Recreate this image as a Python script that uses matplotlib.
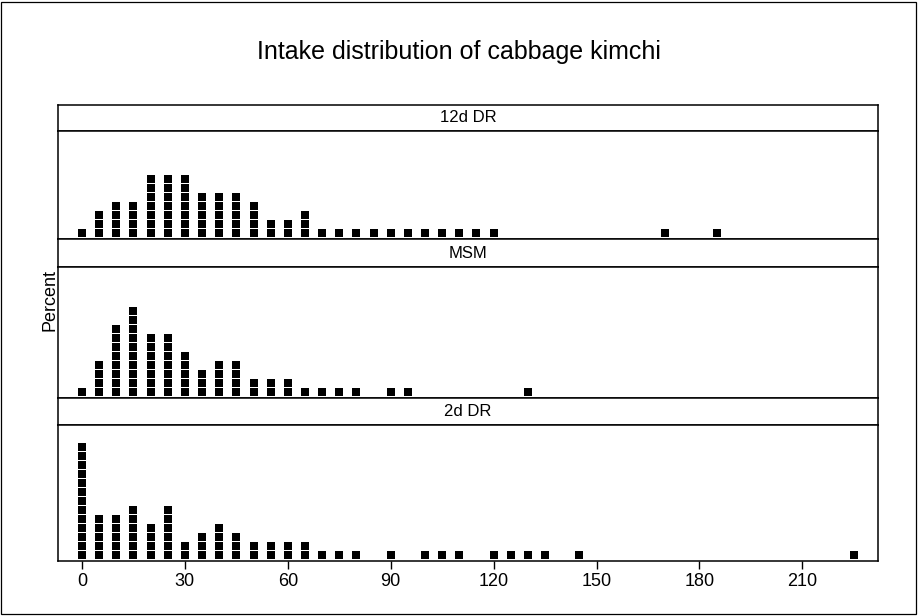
import numpy as np
import matplotlib
matplotlib.use("Agg")
import matplotlib.pyplot as plt
from matplotlib.patches import Rectangle

plt.rcParams['font.family'] = ['Liberation Sans', 'DejaVu Sans']

title = "Intake distribution of cabbage kimchi"
panel_names = ["12d DR", "MSM", "2d DR"]

# intake values (bin centres) and number of stacked squares per bin
dr12_x = [0, 5, 10, 15, 20, 25, 30, 35, 40, 45, 50, 55, 60, 65, 70, 75, 80, 85,
          90, 95, 100, 105, 110, 115, 120, 170, 185]
dr12_n = [1, 3, 4, 4, 7, 7, 7, 5, 5, 5, 4, 2, 2, 3, 1, 1, 1, 1,
          1, 1, 1, 1, 1, 1, 1, 1, 1]

msm_x = [0, 5, 10, 15, 20, 25, 30, 35, 40, 45, 50, 55, 60, 65, 70, 75, 80, 90, 95, 130]
msm_n = [1, 4, 8, 10, 7, 7, 5, 3, 4, 4, 2, 2, 2, 1, 1, 1, 1, 1, 1, 1]

dr2_x = [0, 5, 10, 15, 20, 25, 30, 35, 40, 45, 50, 55, 60, 65, 70, 75, 80, 90,
         100, 105, 110, 120, 125, 130, 135, 145, 225]
dr2_n = [13, 5, 5, 6, 4, 6, 2, 3, 4, 3, 2, 2, 2, 2, 1, 1, 1, 1,
         1, 1, 1, 1, 1, 1, 1, 1, 1]

xticks = [0, 30, 60, 90, 120, 150, 180, 210]

W, H = 918, 616
fig = plt.figure(figsize=(W / 100, H / 100), dpi=100)

# outer border
fig.add_artist(Rectangle((1 / W, 2 / H), (W - 3) / W, (H - 4) / H,
                         transform=fig.transFigure, fill=False,
                         edgecolor='black', linewidth=0.9))

fig.text(0.5, 1 - 52 / H, title, ha='center', va='center', fontsize=18)

left_px, right_px = 58, 878
# (strip_top, strip_bottom/plot_top, plot_bottom) in pixels
layout = [(105, 131, 239), (239, 267, 398), (398, 425, 561)]
datasets = [(dr12_x, dr12_n), (msm_x, msm_n), (dr2_x, dr2_n)]

px_per_unit = 3.43
x0_px = 82
xmin = -(x0_px - left_px) / px_per_unit
xmax = (right_px - x0_px) / px_per_unit
sq_spacing = 9.0

lw = 1.1
for i, (name, (st, pt, pb), (xs, ns)) in enumerate(zip(panel_names, layout, datasets)):
    # strip
    sax = fig.add_axes([left_px / W, 1 - pt / H, (right_px - left_px) / W, (pt - st) / H])
    sax.set_xticks([]); sax.set_yticks([])
    for s in sax.spines.values():
        s.set_linewidth(lw)
    sax.text(0.5, 0.5, name, ha='center', va='center', fontsize=12, transform=sax.transAxes)

    ax = fig.add_axes([left_px / W, 1 - pb / H, (right_px - left_px) / W, (pb - pt) / H])
    for s in ax.spines.values():
        s.set_linewidth(lw)
    px_x, px_y = [], []
    for xv, nv in zip(xs, ns):
        for k in range(1, nv + 1):
            px_x.append(xv)
            px_y.append(k - 0.35)
    ax.scatter(px_x, px_y, marker='s', s=30, color='black', linewidths=0)
    ax.set_xlim(xmin, xmax)
    ax.set_ylim(0, (pb - pt) / sq_spacing)
    ax.set_yticks([])
    if i == 2:
        ax.set_xticks(xticks)
        ax.set_xticklabels([str(t) for t in xticks], fontsize=13)
        ax.tick_params(axis='x', direction='out', length=6, width=1, pad=3)
    else:
        ax.set_xticks([])

fig.text(50 / W, 1 - 300 / H, "Percent", rotation=90, ha='center', va='center', fontsize=13)

fig.savefig("out.png", dpi=100)
